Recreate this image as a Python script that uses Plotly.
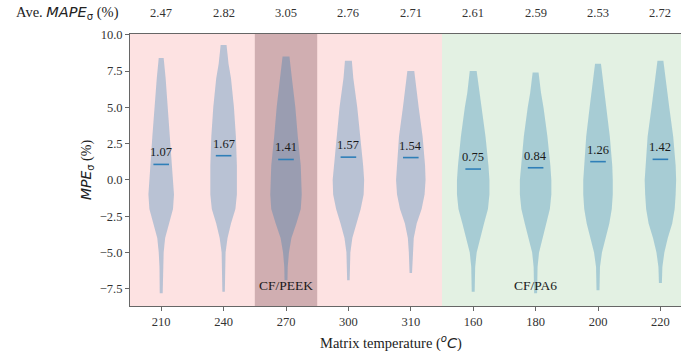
import plotly.graph_objects as go
import numpy as np

categories = ["210", "240", "270", "300", "310", "160", "180", "200", "220"]
groups = ["CF/PEEK"] * 5 + ["CF/PA6"] * 4
ave_mape = [2.47, 2.82, 3.05, 2.76, 2.71, 2.61, 2.59, 2.53, 2.72]
medians = [1.07, 1.67, 1.41, 1.57, 1.54, 0.75, 0.84, 1.26, 1.42]

# violin density profiles (MPE level, relative density)
v210_y = [-7.8, -6.0, -5.0, -4.0, -3.0, -2.0, -1.0, 1.0, 3.0, 5.0, 7.0, 8.4]
v210_d = [3, 3.5, 5, 8, 16, 24, 26, 22, 18, 14, 9, 5]
v240_y = [-7.7, -6.0, -5.0, -4.0, -3.0, -2.0, -1.0, 1.0, 3.0, 5.0, 7.0, 8.0, 9.3]
v240_d = [2.5, 3, 4, 8, 15, 24, 27, 27, 25, 21, 15, 10, 6]
v270_y = [-6.9, -6.0, -5.0, -4.0, -3.0, -2.0, -1.0, 1.0, 3.0, 5.0, 7.0, 8.5]
v270_d = [3, 3.5, 6, 11, 21, 30, 32, 30, 24, 19, 12, 7]
v300_y = [-6.9, -6.0, -5.0, -4.0, -3.0, -2.0, -1.0, 0.0, 1.0, 3.0, 5.0, 7.0, 8.2]
v300_d = [2.5, 3, 4, 8, 16, 25, 31, 32, 30, 24, 18, 10, 7]
v310_y = [-6.4, -5.0, -4.0, -3.0, -2.0, -1.0, 0.0, 1.0, 3.0, 5.0, 6.0, 7.5]
v310_d = [2.5, 4, 6, 12, 22, 28, 30, 29, 24, 16, 12, 7]
v160_y = [-7.7, -6.0, -5.0, -4.0, -3.0, -2.0, -1.0, 0.0, 1.0, 3.0, 5.0, 6.0, 7.5]
v160_d = [3, 4, 7, 14, 22, 30, 33, 33, 31, 25, 17, 12, 7]
v180_y = [-7.8, -6.0, -5.0, -4.0, -3.0, -2.0, -1.0, 0.0, 1.0, 3.0, 5.0, 6.0, 7.4]
v180_d = [3, 4, 7, 14, 22, 29, 32, 32, 30, 24, 16, 11, 6]
v200_y = [-7.6, -6.0, -5.0, -4.0, -3.0, -2.0, -1.0, 0.0, 1.0, 3.0, 5.0, 7.0, 8.0]
v200_d = [3, 4, 8, 15, 23, 28, 30, 30, 29, 24, 17, 10, 6]
v220_y = [-7.1, -6.0, -5.0, -4.0, -3.0, -2.0, -1.0, 0.0, 1.0, 3.0, 5.0, 7.0, 8.2]
v220_d = [3, 4, 8, 15, 24, 29, 31, 32, 31, 26, 18, 11, 6]

profiles_y = [v210_y, v240_y, v270_y, v300_y, v310_y, v160_y, v180_y, v200_y, v220_y]
profiles_d = [v210_d, v240_d, v270_d, v300_d, v310_d, v160_d, v180_d, v200_d, v220_d]

y_ticks = [-7.5, -5.0, -2.5, 0.0, 2.5, 5.0, 7.5, 10.0]
y_ticktext = ["\u22127.5", "\u22125.0", "\u22122.5", "0.0", "2.5", "5.0", "7.5", "10.0"]

SERIF = "Liberation Serif"
SANS = "DejaVu Sans"
VIOLIN_FILL = "rgba(31,119,180,0.30)"
MEDIAN_COLOR = "#2f7fb8"
MAX_WIDTH = 0.52  # category units for the densest profile
max_d = max(max(d) for d in profiles_d)

fig = go.Figure()

for i, (ys, ds) in enumerate(zip(profiles_y, profiles_d)):
    ys = np.array(ys, float)
    hw = np.array(ds, float) / max_d * MAX_WIDTH / 2
    xs = np.concatenate([i + hw, (i - hw)[::-1], [i + hw[0]]])
    yy = np.concatenate([ys, ys[::-1], [ys[0]]])
    fig.add_trace(go.Scatter(x=xs, y=yy, mode="lines", fill="toself",
                             fillcolor=VIOLIN_FILL, line=dict(width=0),
                             hoverinfo="skip", showlegend=False))
    fig.add_trace(go.Scatter(x=[i - 0.125, i + 0.125], y=[medians[i], medians[i]], mode="lines",
                             line=dict(color=MEDIAN_COLOR, width=1.6), hoverinfo="skip", showlegend=False))
    fig.add_annotation(x=i, y=medians[i], text=f"{medians[i]:.2f}", showarrow=False,
                       yshift=12, font=dict(family=SERIF, size=12.5, color="#1a1a1a"))
    fig.add_annotation(x=i, y=1, yref="paper", text=f"{ave_mape[i]:.2f}", showarrow=False,
                       yanchor="middle", yshift=21, font=dict(family=SERIF, size=12.5, color="#333333"))

n_peek = groups.count("CF/PEEK")
# background shading
fig.add_shape(type="rect", xref="x", yref="paper", x0=-0.5, x1=n_peek - 0.5, y0=0, y1=1,
              fillcolor="#fde2e2", line=dict(width=0), layer="below")
fig.add_shape(type="rect", xref="x", yref="paper", x0=n_peek - 0.5, x1=len(categories) - 0.5, y0=0, y1=1,
              fillcolor="#e3f1e3", line=dict(width=0), layer="below")
fig.add_shape(type="rect", xref="x", yref="paper", x0=1.5, x1=2.5, y0=0, y1=1,
              fillcolor="#d0aeb1", line=dict(width=0), layer="below")

fig.add_annotation(x=2, y=-7.3, text="CF/PEEK", showarrow=False,
                   font=dict(family=SERIF, size=13.5, color="#1a1a1a"))
fig.add_annotation(x=6, y=-7.3, text="CF/PA6", showarrow=False,
                   font=dict(family=SERIF, size=13.5, color="#1a1a1a"))

fig.add_annotation(xref="paper", yref="paper", x=-0.0165, y=1, yshift=21, xanchor="right", yanchor="middle",
                   text=f"Ave. <span style='font-family:{SANS}'><i>MAPE</i><sub>σ</sub></span> (%)",
                   showarrow=False, font=dict(family=SERIF, size=14.5, color="#222222"))
fig.add_annotation(xref="paper", yref="paper", x=-0.078, y=0.5, textangle=-90,
                   xanchor="center", yanchor="middle",
                   text=f"<span style='font-family:{SANS}'><i>MPE</i><sub>σ</sub></span> (%)",
                   showarrow=False, font=dict(family=SERIF, size=14, color="#222222"))
fig.add_annotation(xref="paper", yref="paper", x=0.473, y=0, yshift=-36,
                   xanchor="center", yanchor="middle",
                   text=f"Matrix temperature (<span style='font-family:{SANS}'><sup><i>o</i></sup><i>C</i></span>)",
                   showarrow=False, font=dict(family=SERIF, size=14.5, color="#222222"))

fig.update_layout(
    width=681, height=351,
    margin=dict(l=130, r=0, t=34, b=45),
    paper_bgcolor="white", plot_bgcolor="white",
    showlegend=False,
)
fig.update_xaxes(range=[-0.5, 8.33], tickmode="array", tickvals=list(range(len(categories))),
                 ticktext=categories, showgrid=False, zeroline=False,
                 showline=True, linecolor="#666666", linewidth=1, mirror=True,
                 ticks="outside", ticklen=4, tickcolor="#666666",
                 tickfont=dict(family=SERIF, size=12.5, color="#333333"))
fig.update_yaxes(range=[-8.68, 10.05], tickmode="array", tickvals=y_ticks, ticktext=y_ticktext,
                 showgrid=False, zeroline=False,
                 showline=True, linecolor="#666666", linewidth=1,
                 ticks="outside", ticklen=4, tickcolor="#666666",
                 tickfont=dict(family=SERIF, size=12.5, color="#333333"))

fig.write_html("out.html")
